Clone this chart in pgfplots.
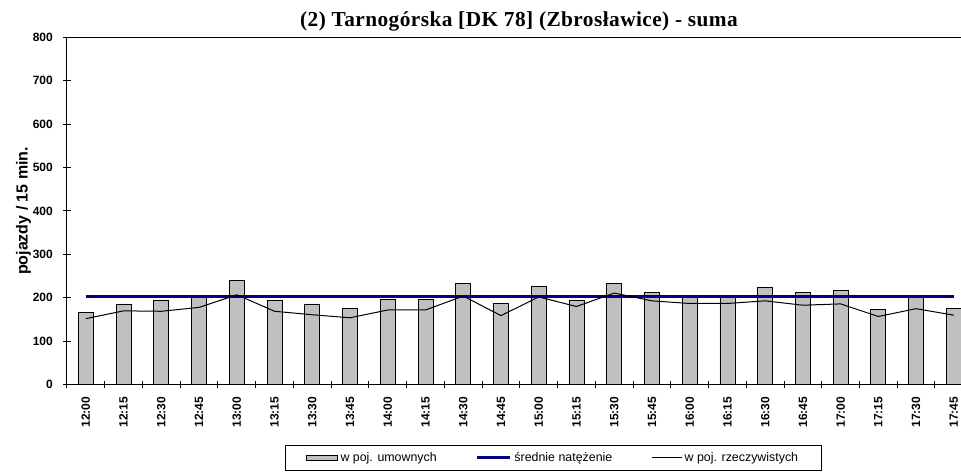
\documentclass[border=0pt]{standalone}
\usepackage{fontspec}
\setmainfont{Liberation Sans}
\newfontfamily\titlefont[LetterSpace=2]{Liberation Serif}
\usepackage{pgfplots}
\pgfplotsset{compat=1.18}
\definecolor{bargray}{HTML}{C0C0C0}
\definecolor{navyline}{HTML}{000080}
\begin{document}
\begin{tikzpicture}
\useasboundingbox (-50.25pt,-65.5pt) rectangle (670.5pt,288.5pt);
\begin{axis}[
  at={(0,0)}, anchor=south west,
  scale only axis, width=670.5pt, height=260.55pt,
  xmin=-0.5, xmax=23.19, ymin=0, ymax=800,
  axis x line=box, axis y line=left,
  axis line style={-, line width=0.75pt, black},
  ytick={0,100,...,800},
  xtick={0,...,23},
  xticklabels={12:00,12:15,12:30,12:45,13:00,13:15,13:30,13:45,14:00,14:15,14:30,14:45,15:00,15:15,15:30,15:45,16:00,16:15,16:30,16:45,17:00,17:15,17:30,17:45},
  minor xtick={-0.5,0.5,...,22.5},
  major x tick style={draw=none},
  xtick pos=left, ytick pos=left,
  tick align=center,
  major tick length=5.5pt, minor tick length=5.5pt,
  every tick/.style={black, line width=0.75pt},
  /pgf/number format/assume math mode=true,
  ticklabel style={font=\bfseries\fontsize{9}{10}\selectfont},
  yticklabel style={inner sep=0pt, anchor=east, xshift=-7.7pt},
  xticklabel style={rotate=90, anchor=east, inner sep=0pt, xshift=-6.2pt},
  ylabel={pojazdy / 15 min.},
  every axis y label/.style={at={(axis description cs:-0.0487,0.5)}, rotate=90, anchor=center, font=\bfseries\fontsize{12}{14}\selectfont},
  title={(2) Tarnogórska [DK 78] (Zbrosławice) - suma},
  every axis title/.style={at={(axis description cs:0.5056,1)}, anchor=base, yshift=8pt, font=\titlefont\bfseries\fontsize{16}{18}\selectfont},
  clip=true,
  legend columns=3,
  legend style={at={(0,0)}, anchor=south west, xshift=163.5pt, yshift=-64.5pt,
    draw=black, line width=0.6pt, font=\fontsize{9.3}{10}\selectfont,
    inner xsep=15.5pt, inner ysep=3.2pt,
    /tikz/every even column/.append style={column sep=27pt}},
]
\addplot[ybar, bar width=11.25pt, fill=bargray, draw=black, line width=0.6pt,
  legend image code/.code={\draw[fill=bargray, draw=black, line width=0.6pt] (0pt,-1.9pt) rectangle (23.25pt,1.9pt);}]
  coordinates {(0,167) (1,186) (2,195) (3,200) (4,241) (5,193) (6,186) (7,176) (8,196) (9,197) (10,234) (11,188) (12,226) (13,194) (14,234) (15,213) (16,201) (17,205) (18,225) (19,213) (20,218) (21,174) (22,203) (23,176)};
\addlegendentry{w poj. umownych}
\addplot[navyline, line width=2.25pt,
  legend image code/.code={\draw[navyline, line width=2.25pt] (0pt,0pt) -- (25pt,0pt);}]
  coordinates {(0,202) (23,202)};
\addlegendentry{średnie natężenie}
\addplot[black, line width=0.75pt,
  legend image code/.code={\draw[black, line width=0.75pt] (0pt,0pt) -- (22.5pt,0pt);}]
  coordinates {(0,152) (1,170) (2,169) (3,178) (4,207) (5,169) (6,161) (7,154) (8,172) (9,172) (10,204) (11,159) (12,202) (13,180) (14,211) (15,193) (16,187) (17,187) (18,193) (19,183) (20,186) (21,157) (22,175) (23,160)};
\addlegendentry{w poj. rzeczywistych}
\end{axis}
\end{tikzpicture}
\end{document}
